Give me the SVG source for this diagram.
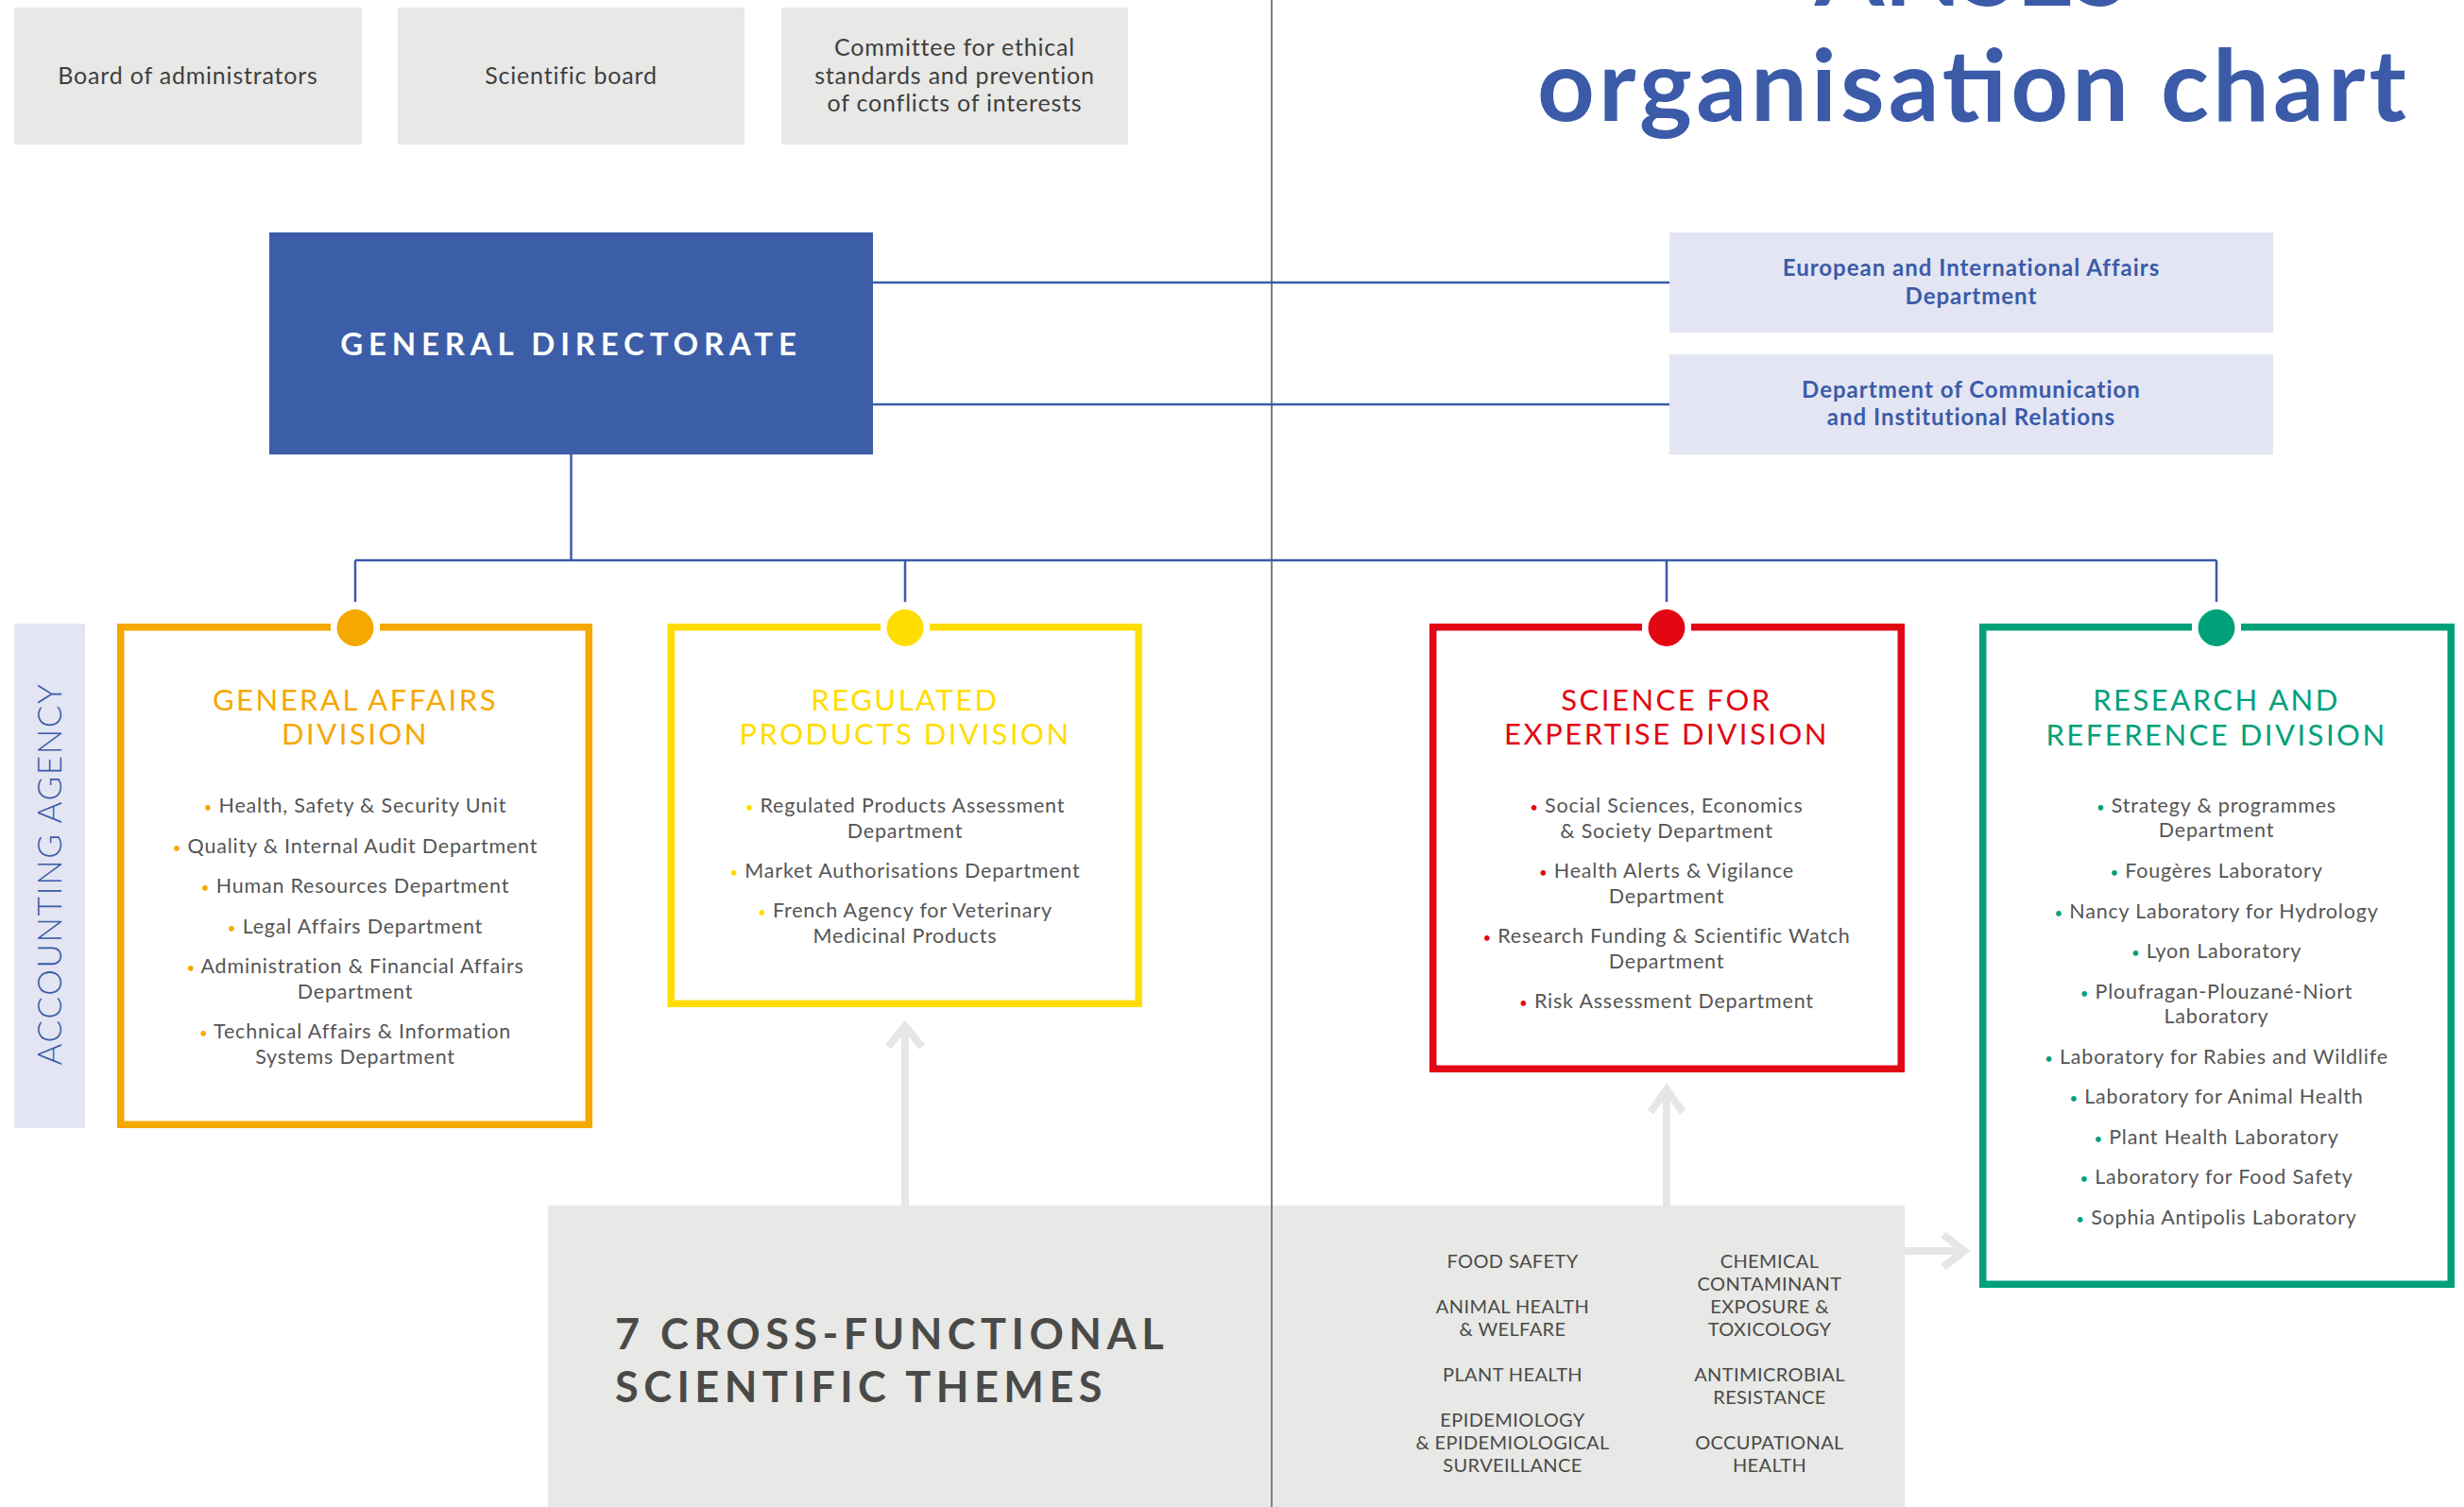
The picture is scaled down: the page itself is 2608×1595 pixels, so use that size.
<svg xmlns="http://www.w3.org/2000/svg" width="2608" height="1595" viewBox="0 0 2608 1595">
<style>
.top{fill:#E8E8E6}
.tt{font-family:Lato,"Liberation Sans",sans-serif;font-size:25px;letter-spacing:0.8px;fill:#3f3f3f;text-anchor:middle}
.side{fill:#E3E5F3}
.st{font-family:Lato,"Liberation Sans",sans-serif;font-weight:700;font-size:24px;letter-spacing:1px;fill:#3B5BA9;text-anchor:middle}
.bl{stroke:#3B5BA9;stroke-width:2.5;fill:none}
.vl{stroke:#7f7f7f;stroke-width:2;fill:none}
.bx{fill:none;stroke-width:7.5}
.dt{font-family:Lato,"Liberation Sans",sans-serif;font-size:31px;letter-spacing:2.5px;text-anchor:middle}
.it{font-family:Lato,"Liberation Sans",sans-serif;font-size:21.5px;letter-spacing:0.8px;fill:#555;text-anchor:middle}
.b{font-size:15px}
.arr{stroke:#E6E6E6;stroke-width:8;fill:none;stroke-linejoin:miter}
.th{font-family:Lato,"Liberation Sans",sans-serif;font-size:20px;letter-spacing:0.4px;fill:#4a4a48;text-anchor:middle}
.ga{fill:#F5A800;stroke:#F5A800}
.rp{fill:#FFDD00;stroke:#FFDD00}
.se{fill:#E30613;stroke:#E30613}
.rr{fill:#00A07A;stroke:#00A07A}
.bx.ga,.bx.rp,.bx.se,.bx.rr{fill:none}
</style>

<g id="title">
<text x="2087" y="6" font-family="Lato,'Liberation Sans',sans-serif" font-weight="700" font-size="106" fill="#3B5BA9" text-anchor="middle">ANSES</text>
<text x="2087" y="128" font-family="Lato,'Liberation Sans',sans-serif" font-weight="700" font-size="106" fill="#3B5BA9" text-anchor="middle" textLength="920" lengthAdjust="spacing">organisation chart</text>
</g>

<g id="board">
<rect class="top" x="15" y="8" width="368" height="145"/>
<text class="tt" x="199" y="88.5">Board of administrators</text>
</g>
<g id="scientific-board">
<rect class="top" x="421" y="8" width="367" height="145"/>
<text class="tt" x="604.5" y="88.5">Scientific board</text>
</g>
<g id="committee">
<rect class="top" x="827" y="8" width="367" height="145"/>
<text class="tt" x="1010.5" y="59">Committee for ethical</text>
<text class="tt" x="1010.5" y="88.5">standards and prevention</text>
<text class="tt" x="1010.5" y="118">of conflicts of interests</text>
</g>

<g id="general-directorate">
<rect x="285" y="246" width="639" height="235" fill="#3C5EA8"/>
<text x="604.5" y="376" font-family="Lato,'Liberation Sans',sans-serif" font-weight="700" font-size="33" letter-spacing="5.8" fill="#fff" text-anchor="middle">GENERAL DIRECTORATE</text>
</g>

<g id="european-affairs">
<rect class="side" x="1767" y="246" width="639" height="106"/>
<text class="st" x="2086.5" y="292">European and International Affairs</text>
<text class="st" x="2086.5" y="322">Department</text>
</g>
<g id="communication">
<rect class="side" x="1767" y="375" width="639" height="106"/>
<text class="st" x="2086.5" y="421">Department of Communication</text>
<text class="st" x="2086.5" y="450">and Institutional Relations</text>
</g>

<g id="accounting-agency">
<rect class="side" x="15" y="660" width="75" height="534"/>
<text transform="translate(65,925) rotate(-90)" x="0" y="0" font-family="Lato,'Liberation Sans',sans-serif" font-weight="300" font-size="35" letter-spacing="1.6" fill="#3B5BA9" text-anchor="middle">ACCOUNTING AGENCY</text>
</g>

<g id="general-affairs">
<path class="bx ga" d="M350 663.75H127.75V1190.25H623.25V663.75H402"/>
<circle class="ga" cx="376" cy="664.5" r="19"/>
<text class="dt" x="376" y="752" fill="#F5A800">GENERAL AFFAIRS</text>
<text class="dt" x="376" y="788" fill="#F5A800">DIVISION</text>
<text class="it" x="376" y="860"><tspan class="b" fill="#F5A800">•</tspan> Health, Safety &amp; Security Unit</text>
<text class="it" x="376" y="902.5"><tspan class="b" fill="#F5A800">•</tspan> Quality &amp; Internal Audit Department</text>
<text class="it" x="376" y="945"><tspan class="b" fill="#F5A800">•</tspan> Human Resources Department</text>
<text class="it" x="376" y="987.5"><tspan class="b" fill="#F5A800">•</tspan> Legal Affairs Department</text>
<text class="it" x="376" y="1030"><tspan class="b" fill="#F5A800">•</tspan> Administration &amp; Financial Affairs</text>
<text class="it" x="376" y="1056.5">Department</text>
<text class="it" x="376" y="1099"><tspan class="b" fill="#F5A800">•</tspan> Technical Affairs &amp; Information</text>
<text class="it" x="376" y="1125.5">Systems Department</text>
</g>

<g id="regulated-products">
<path class="bx rp" d="M932 663.75H710.25V1062.25H1205.25V663.75H984"/>
<circle class="rp" cx="958" cy="664.5" r="19"/>
<text class="dt" x="958" y="752" fill="#FFDD00">REGULATED</text>
<text class="dt" x="958" y="788" fill="#FFDD00">PRODUCTS DIVISION</text>
<text class="it" x="958" y="860"><tspan class="b" fill="#FFDD00">•</tspan> Regulated Products Assessment</text>
<text class="it" x="958" y="886.5">Department</text>
<text class="it" x="958" y="928.5"><tspan class="b" fill="#FFDD00">•</tspan> Market Authorisations Department</text>
<text class="it" x="958" y="971"><tspan class="b" fill="#FFDD00">•</tspan> French Agency for Veterinary</text>
<text class="it" x="958" y="997.5">Medicinal Products</text>
</g>

<g id="science-expertise">
<path class="bx se" d="M1738 663.75H1516.75V1131.25H2012.25V663.75H1790"/>
<circle class="se" cx="1764" cy="664.5" r="19"/>
<text class="dt" x="1764" y="752" fill="#E30613">SCIENCE FOR</text>
<text class="dt" x="1764" y="788" fill="#E30613">EXPERTISE DIVISION</text>
<text class="it" x="1764" y="860"><tspan class="b" fill="#E30613">•</tspan> Social Sciences, Economics</text>
<text class="it" x="1764" y="886.5">&amp; Society Department</text>
<text class="it" x="1764" y="929"><tspan class="b" fill="#E30613">•</tspan> Health Alerts &amp; Vigilance</text>
<text class="it" x="1764" y="955.5">Department</text>
<text class="it" x="1764" y="998"><tspan class="b" fill="#E30613">•</tspan> Research Funding &amp; Scientific Watch</text>
<text class="it" x="1764" y="1024.5">Department</text>
<text class="it" x="1764" y="1067"><tspan class="b" fill="#E30613">•</tspan> Risk Assessment Department</text>
</g>

<g id="research-reference">
<path class="bx rr" d="M2320 663.75H2098.75V1359.25H2594.25V663.75H2372"/>
<circle class="rr" cx="2346" cy="664.5" r="19"/>
<text class="dt" x="2346" y="752" fill="#00A07A">RESEARCH AND</text>
<text class="dt" x="2346" y="789" fill="#00A07A">REFERENCE DIVISION</text>
<text class="it" x="2346" y="860"><tspan class="b" fill="#00A07A">•</tspan> Strategy &amp; programmes</text>
<text class="it" x="2346" y="886">Department</text>
<text class="it" x="2346" y="929"><tspan class="b" fill="#00A07A">•</tspan> Fougères Laboratory</text>
<text class="it" x="2346" y="971.5"><tspan class="b" fill="#00A07A">•</tspan> Nancy Laboratory for Hydrology</text>
<text class="it" x="2346" y="1014"><tspan class="b" fill="#00A07A">•</tspan> Lyon Laboratory</text>
<text class="it" x="2346" y="1056.5"><tspan class="b" fill="#00A07A">•</tspan> Ploufragan-Plouzané-Niort</text>
<text class="it" x="2346" y="1083">Laboratory</text>
<text class="it" x="2346" y="1125.5"><tspan class="b" fill="#00A07A">•</tspan> Laboratory for Rabies and Wildlife</text>
<text class="it" x="2346" y="1168"><tspan class="b" fill="#00A07A">•</tspan> Laboratory for Animal Health</text>
<text class="it" x="2346" y="1210.5"><tspan class="b" fill="#00A07A">•</tspan> Plant Health Laboratory</text>
<text class="it" x="2346" y="1253"><tspan class="b" fill="#00A07A">•</tspan> Laboratory for Food Safety</text>
<text class="it" x="2346" y="1295.5"><tspan class="b" fill="#00A07A">•</tspan> Sophia Antipolis Laboratory</text>
</g>

<g id="cross-functional-themes">
<rect x="580" y="1276" width="1436" height="319" fill="#E8E8E6"/>
<text x="651" y="1428" font-family="Lato,'Liberation Sans',sans-serif" font-weight="700" font-size="45" letter-spacing="5.5" fill="#4a4a48">7 CROSS-FUNCTIONAL</text>
<text x="651" y="1484" font-family="Lato,'Liberation Sans',sans-serif" font-weight="700" font-size="45" letter-spacing="5.5" fill="#4a4a48">SCIENTIFIC THEMES</text>
<text class="th" x="1601" y="1342">FOOD SAFETY</text>
<text class="th" x="1601" y="1390">ANIMAL HEALTH</text>
<text class="th" x="1601" y="1414">&amp; WELFARE</text>
<text class="th" x="1601" y="1462">PLANT HEALTH</text>
<text class="th" x="1601" y="1510">EPIDEMIOLOGY</text>
<text class="th" x="1601" y="1534">&amp; EPIDEMIOLOGICAL</text>
<text class="th" x="1601" y="1558">SURVEILLANCE</text>
<text class="th" x="1873" y="1342">CHEMICAL</text>
<text class="th" x="1873" y="1366">CONTAMINANT</text>
<text class="th" x="1873" y="1390">EXPOSURE &amp;</text>
<text class="th" x="1873" y="1414">TOXICOLOGY</text>
<text class="th" x="1873" y="1462">ANTIMICROBIAL</text>
<text class="th" x="1873" y="1486">RESISTANCE</text>
<text class="th" x="1873" y="1534">OCCUPATIONAL</text>
<text class="th" x="1873" y="1558">HEALTH</text>
</g>

<g id="connectors">
<path class="vl" d="M1346 0V1595"/>
<path class="bl" d="M924 299H1767M924 428H1767"/>
<path class="bl" d="M604.5 481V593M376 593H2346M376 593V637M958 593V637M1764 593V637M2346 593V637"/>
<path class="arr" d="M958 1276V1090M940 1108L958 1086L976 1108"/>
<path class="arr" d="M1764 1276V1157M1747 1177L1764 1153L1781 1177"/>
<path class="arr" d="M2016 1324H2075M2057 1307L2079 1324L2057 1341"/>
</g>
</svg>
